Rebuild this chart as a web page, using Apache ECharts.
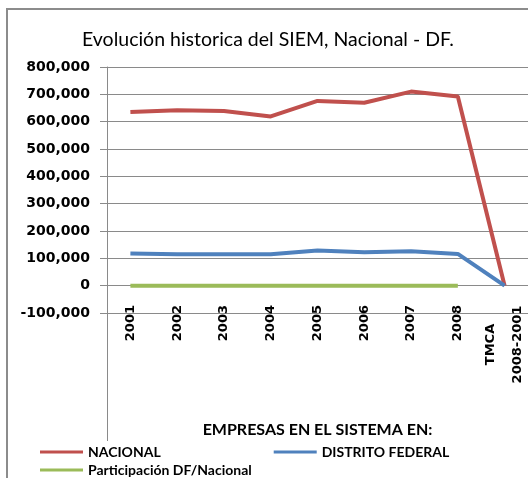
<!DOCTYPE html>
<html>
<head>
<meta charset="utf-8">
<script src="https://cdn.jsdelivr.net/npm/echarts@6/dist/echarts.min.js"></script>
<style>
  html, body { margin: 0; padding: 0; background: #fff; }
  #chart { width: 528px; height: 478px; }
</style>
</head>
<body>
<div id="chart"></div>
<script>
const years = ['2001', '2002', '2003', '2004', '2005', '2006', '2007', '2008', 'TMCA\n2008-2001'];
const nacional = [635000, 642000, 639000, 619000, 676000, 669000, 710000, 692000, 0];
const distritoFederal = [118000, 115000, 115000, 115000, 129000, 122000, 126000, 116000, 0];
const participacion = [0.18, 0.18, 0.18, 0.19, 0.19, 0.18, 0.18, 0.17, null];
const seriesNames = ['NACIONAL', 'DISTRITO FEDERAL', 'Participación DF/Nacional'];

(function () {
  const chart = echarts.init(document.getElementById('chart'));
  const grey = '#8a8a8a';
  const lbl = { fontFamily: 'DejaVu Sans', fontWeight: 'bold', color: '#000' };

  function line(name, data, color) {
    return {
      name: name,
      type: 'line',
      data: data,
      symbol: 'none',
      showSymbol: false,
      lineStyle: { width: 4, color: color },
      itemStyle: { color: color }
    };
  }

  const legendText = { fontFamily: 'Lato', fontWeight: 'bold', fontSize: 14, color: '#000' };

  // multi-line labels get fixed-width centred lines, like the original
  function catLabel(v) {
    if (v.indexOf('\n') < 0) return v;
    return v.split('\n').map(s => '{c|' + s + '}').join('\n');
  }

  const option = {
    animation: false,
    backgroundColor: '#fff',
    title: {
      text: 'Evolución historica del SIEM, Nacional - DF.',
      left: 77,
      top: 25,
      textStyle: { fontFamily: 'Lato', fontWeight: 'normal', fontSize: 19.5, color: '#000' }
    },
    legend: [
      {
        data: [seriesNames[0], seriesNames[1]],
        left: 35, top: 440, itemGap: 113,
        icon: 'rect', itemWidth: 43, itemHeight: 3,
        textStyle: legendText
      },
      {
        data: [seriesNames[2]],
        left: 35, top: 458,
        icon: 'rect', itemWidth: 43, itemHeight: 3,
        textStyle: legendText
      }
    ],
    grid: { left: 107, width: 424, top: 67, bottom: 165, containLabel: false },
    xAxis: {
      type: 'category',
      data: years,
      boundaryGap: true,
      name: 'EMPRESAS EN EL SISTEMA EN:',
      nameLocation: 'middle',
      nameGap: 109,
      nameTextStyle: { fontFamily: 'Lato', fontWeight: 'bold', fontSize: 16, color: '#000' },
      axisLine: { lineStyle: { color: grey, width: 1 } },
      axisTick: { show: false },
      axisLabel: Object.assign({
        rotate: 90, fontSize: 13, margin: -8,
        formatter: catLabel,
        rich: { c: Object.assign({ fontSize: 13, width: 79, align: 'center', lineHeight: 27 }, lbl) }
      }, lbl)
    },
    yAxis: {
      type: 'value',
      min: -100000,
      max: 800000,
      interval: 100000,
      axisLine: { show: true, lineStyle: { color: grey, width: 1 } },
      axisTick: { show: true, length: 7, lineStyle: { color: grey } },
      splitLine: { lineStyle: { color: grey, width: 1 } },
      axisLabel: Object.assign({
        fontSize: 14, margin: 17,
        formatter: v => v.toLocaleString('en-US')
      }, lbl)
    },
    graphic: [
      {
        type: 'rect', silent: true,
        shape: { x: 7, y: 9, width: 700, height: 700 },
        style: { fill: 'none', stroke: '#8c8c8c', lineWidth: 2 }
      },
      {
        type: 'line', silent: true,
        shape: { x1: 107.5, y1: 313, x2: 107.5, y2: 441 },
        style: { stroke: grey, lineWidth: 1 }
      }
    ],
    series: [
      line(seriesNames[0], nacional, '#C0504D'),
      line(seriesNames[1], distritoFederal, '#4F81BD'),
      line(seriesNames[2], participacion, '#9BBB59')
    ]
  };

  chart.setOption(option);
})();
</script>
</body>
</html>
